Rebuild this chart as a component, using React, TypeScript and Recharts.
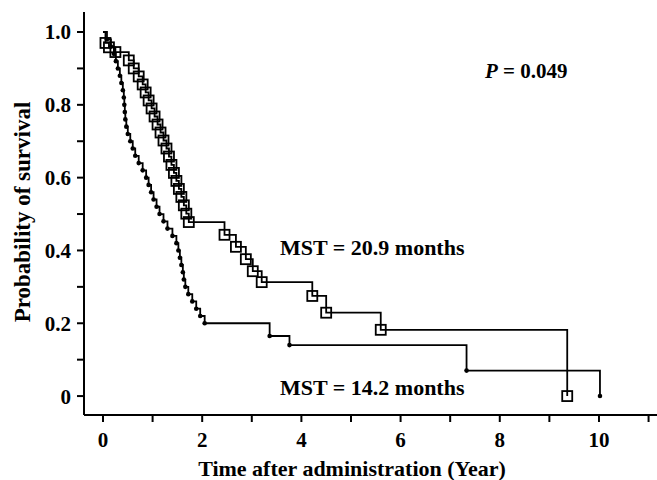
import { ComposedChart, Line, XAxis, YAxis } from "recharts"

// Kaplan-Meier steps (time in years, survival probability)
const longTimes = [0, 0.05, 0.12, 0.25, 0.52, 0.62, 0.72, 0.8, 0.86, 0.92, 0.98, 1.04, 1.1, 1.16, 1.22, 1.28, 1.33, 1.38, 1.43, 1.48, 1.53, 1.58, 1.63, 1.68, 1.73, 2.45, 2.68, 2.88, 3.02, 3.2, 4.22, 4.5, 5.6, 9.36]
const longSurv = [1.0, 0.97, 0.958, 0.945, 0.922, 0.9, 0.878, 0.856, 0.834, 0.812, 0.79, 0.768, 0.746, 0.724, 0.702, 0.68, 0.658, 0.635, 0.613, 0.591, 0.569, 0.547, 0.524, 0.501, 0.478, 0.443, 0.41, 0.376, 0.343, 0.313, 0.275, 0.229, 0.182, 0]

const shortTimes = [0, 0.08, 0.16, 0.22, 0.26, 0.3, 0.34, 0.37, 0.4, 0.42, 0.43, 0.44, 0.45, 0.47, 0.5, 0.55, 0.6, 0.65, 0.72, 0.8, 0.87, 0.92, 0.97, 1.02, 1.08, 1.14, 1.22, 1.3, 1.4, 1.48, 1.52, 1.55, 1.58, 1.61, 1.63, 1.66, 1.72, 1.8, 1.88, 1.96, 2.05, 3.36, 3.76, 7.33, 10.02]
const shortSurv = [1.0, 0.98, 0.96, 0.94, 0.92, 0.9, 0.88, 0.86, 0.84, 0.82, 0.8, 0.78, 0.76, 0.74, 0.72, 0.7, 0.68, 0.66, 0.64, 0.62, 0.6, 0.58, 0.56, 0.54, 0.52, 0.5, 0.48, 0.46, 0.44, 0.42, 0.4, 0.38, 0.36, 0.34, 0.32, 0.3, 0.28, 0.26, 0.24, 0.22, 0.2, 0.165, 0.14, 0.07, 0]

const xTicks = [0, 1, 2, 3, 4, 5, 6, 7, 8, 9, 10, 11]
const yTicks = [0, 0.1, 0.2, 0.3, 0.4, 0.5, 0.6, 0.7, 0.8, 0.9, 1.0]

const longData = longTimes.map((t, i) => ({ t, s: longSurv[i] }))
const shortData = shortTimes.map((t, i) => ({ t, s: shortSurv[i] }))

const font = "'Liberation Serif', 'Times New Roman', serif"
const tickStyle = { fill: "#000", fontSize: 21, fontWeight: "bold", fontFamily: font }

const SquareDot = (props: any) => {
  const { cx, cy, index } = props
  if (index === 0 || cx == null) return <g key={`sq-${index}`} />
  return (
    <rect key={`sq-${index}`} x={cx - 5} y={cy - 5} width={10} height={10} fill="none" stroke="#000" strokeWidth={1.8} />
  )
}

const RoundDot = (props: any) => {
  const { cx, cy, index } = props
  if (index === 0 || cx == null) return <g key={`rd-${index}`} />
  return <circle key={`rd-${index}`} cx={cx} cy={cy} r={2.3} fill="#000" />
}

export default function App() {
  return (
    <div style={{ position: "absolute", left: 0, top: 0, width: 657, height: 480, background: "#fff" }}>
      <ComposedChart width={657} height={480} margin={{ top: 12, right: 0, left: 24, bottom: 0 }}>
        <XAxis
          type="number"
          dataKey="t"
          domain={[-0.383, 11.17]}
          ticks={xTicks}
          allowDataOverflow
          height={65}
          tickSize={7}
          tickMargin={10}
          axisLine={{ stroke: "#000", strokeWidth: 2 }}
          tickLine={{ stroke: "#000", strokeWidth: 2 }}
          tick={tickStyle}
          tickFormatter={(v: number) => (v % 2 === 0 ? String(v) : "")}
        />
        <YAxis
          type="number"
          dataKey="s"
          domain={[-0.052, 1.055]}
          ticks={yTicks}
          allowDataOverflow
          width={60}
          tickSize={7}
          tickMargin={6}
          axisLine={{ stroke: "#000", strokeWidth: 2 }}
          tickLine={{ stroke: "#000", strokeWidth: 2 }}
          tick={tickStyle}
          tickFormatter={(v: number) => {
            const k = Math.round(v * 10)
            if (k === 0) return "0"
            return k % 2 === 0 ? v.toFixed(1) : ""
          }}
        />
        <Line
          data={shortData}
          dataKey="s"
          type="stepAfter"
          stroke="#000"
          strokeWidth={1.8}
          dot={RoundDot}
          activeDot={false}
          isAnimationActive={false}
        />
        <Line
          data={longData}
          dataKey="s"
          type="stepAfter"
          stroke="#000"
          strokeWidth={1.8}
          dot={SquareDot}
          activeDot={false}
          isAnimationActive={false}
        />
      </ComposedChart>
      <svg width={657} height={480} style={{ position: "absolute", left: 0, top: 0, pointerEvents: "none" }}>
        <g fontFamily={font} fontWeight="bold" fill="#000">
          <text x={485} y={78} fontSize={21}>
            <tspan fontStyle="italic">P</tspan> = 0.049
          </text>
          <text x={280} y={255} fontSize={22}>MST = 20.9 months</text>
          <text x={280} y={395} fontSize={22}>MST = 14.2 months</text>
          <text x={352} y={476} fontSize={22} textAnchor="middle">Time after administration (Year)</text>
          <text x={0} y={0} fontSize={23} textAnchor="middle" transform="translate(30 212) rotate(-90)">
            Probability of survival
          </text>
        </g>
      </svg>
    </div>
  )
}
